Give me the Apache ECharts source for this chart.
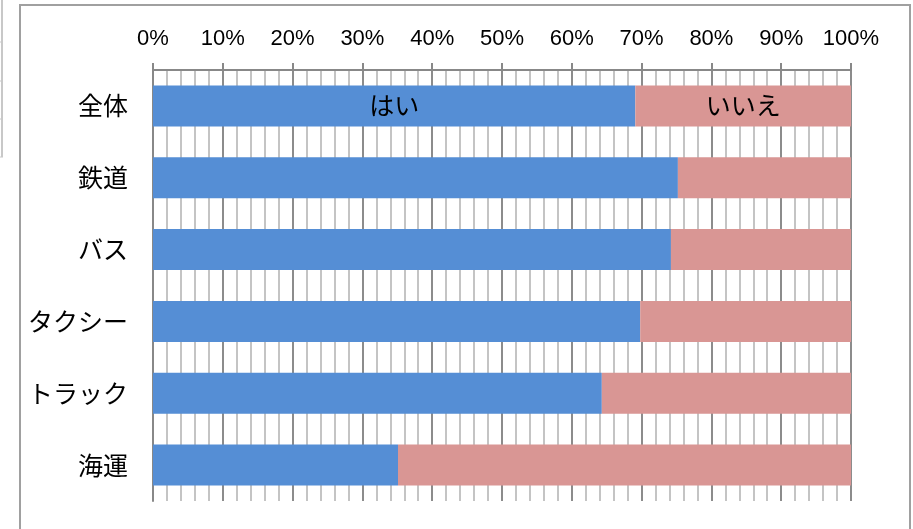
<!DOCTYPE html>
<html>
<head>
<meta charset="utf-8">
<script src="https://cdn.jsdelivr.net/npm/echarts@6/dist/echarts.min.js"></script>
<style>
html,body{margin:0;padding:0;background:#fff;}
#chart{width:913px;height:529px;}
</style>
</head>
<body>
<div id="chart"></div>
<script>
const categories = ['全体', '鉄道', 'バス', 'タクシー', 'トラック', '海運'];
const yesValues = [69.1, 75.2, 74.2, 69.8, 64.3, 35.1];
const noValues = [30.9, 24.8, 25.8, 30.2, 35.7, 64.9];
const seriesNames = ['はい', 'いいえ'];
const xTicks = [0, 10, 20, 30, 40, 50, 60, 70, 80, 90, 100];

const chart = echarts.init(document.getElementById('chart'));

function withFirstLabel(values, name) {
  return values.map((v, i) => i === 0 ? {
    value: v,
    label: {
      show: true, position: 'inside', formatter: name,
      color: '#000', fontSize: 25, fontFamily: 'Noto Sans CJK JP'
    }
  } : v);
}

chart.setOption({
  animation: false,
  backgroundColor: '#fff',
  grid: { left: 153, right: 62, top: 70, bottom: 28, containLabel: false },
  xAxis: {
    type: 'value',
    position: 'top',
    min: xTicks[0],
    max: xTicks[xTicks.length - 1],
    interval: 10,
    axisLine: { show: true, lineStyle: { color: '#888', width: 2 } },
    axisTick: { show: true, length: 7, inside: false, lineStyle: { color: '#888', width: 2 } },
    axisLabel: {
      formatter: '{value}%', color: '#000', fontSize: 22,
      fontFamily: 'Liberation Sans', margin: 20
    },
    splitLine: { show: true, lineStyle: { color: '#8c8c8c', width: 2 } },
    minorTick: { show: false, splitNumber: 5 },
    minorSplitLine: { show: true, lineStyle: { color: '#c4c4c4', width: 2 } }
  },
  yAxis: {
    type: 'category',
    inverse: true,
    data: categories,
    axisLine: { show: true, lineStyle: { color: '#888', width: 2 } },
    axisTick: { show: false },
    axisLabel: { color: '#000', fontSize: 25, fontFamily: 'Noto Sans CJK JP', margin: 25 }
  },
  series: [
    {
      name: seriesNames[0], type: 'bar', stack: 'total', barWidth: 41,
      itemStyle: { color: '#558ED5' },
      data: withFirstLabel(yesValues, seriesNames[0])
    },
    {
      name: seriesNames[1], type: 'bar', stack: 'total', barWidth: 41,
      itemStyle: { color: '#D99694' },
      data: withFirstLabel(noValues, seriesNames[1])
    }
  ],
  graphic: [
    { type: 'rect', shape: { x: 20, y: 5, width: 890, height: 540 },
      style: { fill: 'none', stroke: '#a0a0a0', lineWidth: 2 }, silent: true },
    { type: 'line', shape: { x1: 2, y1: 0, x2: 2, y2: 157 }, style: { stroke: '#c8c8c8', lineWidth: 2 } },
    { type: 'line', shape: { x1: 0, y1: 42, x2: 3, y2: 42 }, style: { stroke: '#c8c8c8', lineWidth: 1 } },
    { type: 'line', shape: { x1: 0, y1: 81, x2: 3, y2: 81 }, style: { stroke: '#c8c8c8', lineWidth: 1 } },
    { type: 'line', shape: { x1: 0, y1: 119, x2: 3, y2: 119 }, style: { stroke: '#c8c8c8', lineWidth: 1 } },
    { type: 'line', shape: { x1: 0, y1: 157, x2: 3, y2: 157 }, style: { stroke: '#c8c8c8', lineWidth: 1 } }
  ]
});
</script>
</body>
</html>
